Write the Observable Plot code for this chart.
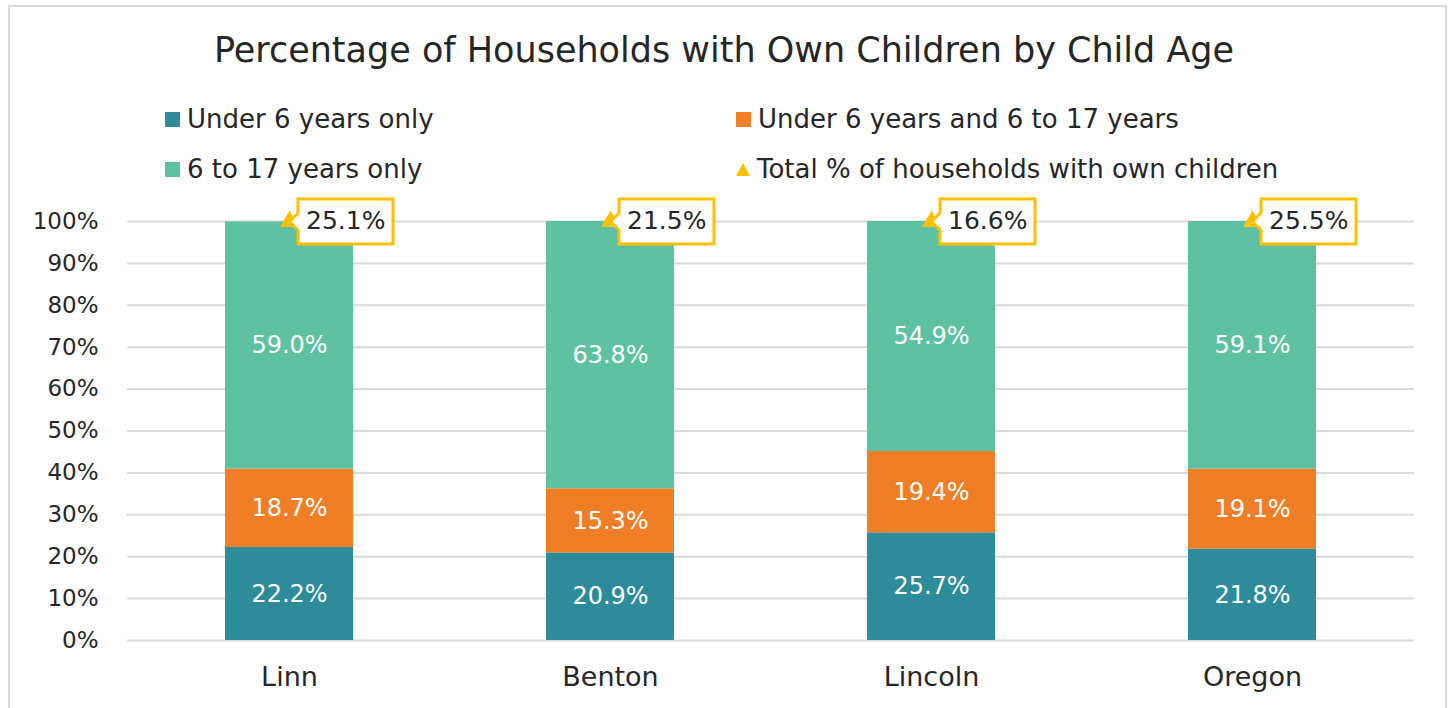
<!DOCTYPE html>
<html>
<head>
<meta charset="utf-8">
<script src="https://cdn.jsdelivr.net/npm/d3@7"></script>
<script src="https://cdn.jsdelivr.net/npm/@observablehq/plot@0.6"></script>
<style>
  html, body { margin: 0; padding: 0; background: #fff; }
  body { font-family: "DejaVu Sans", sans-serif; color: #262626; }
  #wrap { position: relative; width: 1448px; height: 708px; overflow: hidden; }
  #border { position: absolute; left: 8px; top: 5px; width: 1435px; height: 720px; border: 2px solid #D9D9D9; }
  #title { position: absolute; left: 0; top: 29px; width: 1448px; text-align: center; font-size: 35px; line-height: 42px; }
  .leg { position: absolute; font-size: 26px; line-height: 30px; white-space: nowrap; display: flex; align-items: center; }
  .sw { display: inline-block; width: 15px; height: 15px; margin-right: 7px; }
  #chart { position: absolute; left: 0; top: 195px; }
  #chart svg g[aria-label="tip"] path { filter: none !important; }
</style>
</head>
<body>
<div id="wrap">
  <div id="border"></div>
  <div id="title"></div>
  <div id="legend"></div>
  <div id="chart"></div>
</div>
<script>
const titleText = "Percentage of Households with Own Children by Child Age";
const counties = ["Linn", "Benton", "Lincoln", "Oregon"];
const seriesNames = ["Under 6 years only", "Under 6 years and 6 to 17 years", "6 to 17 years only"];
const totalName = "Total % of households with own children";
const under6 = [22.2, 20.9, 25.7, 21.8];
const both = [18.7, 15.3, 19.4, 19.1];
const sixTo17 = [59.0, 63.8, 54.9, 59.1];
const totals = [25.1, 21.5, 16.6, 25.5];
const colors = ["#2E8B9A", "#F07E26", "#5EC1A1"];
const totalColor = "#FFC000";
const yTicks = [0, 10, 20, 30, 40, 50, 60, 70, 80, 90, 100];

document.getElementById("title").textContent = titleText;

// legend (HTML, above the SVG)
const legendItems = [
  {name: seriesNames[0], color: colors[0], kind: "sq", left: 165, top: 104},
  {name: seriesNames[1], color: colors[1], kind: "sq", left: 736, top: 104},
  {name: seriesNames[2], color: colors[2], kind: "sq", left: 165, top: 154},
  {name: totalName, color: totalColor, kind: "tri", left: 736, top: 154}
];
const legend = document.getElementById("legend");
for (const it of legendItems) {
  const d = document.createElement("div");
  d.className = "leg";
  d.style.left = it.left + "px";
  d.style.top = it.top + "px";
  const s = document.createElement("span");
  if (it.kind === "sq") {
    s.className = "sw";
    s.style.background = it.color;
  } else {
    s.style.cssText = `display:inline-block;width:0;height:0;border-left:7px solid transparent;border-right:7px solid transparent;border-bottom:13px solid ${it.color};margin-right:7px;`;
  }
  d.appendChild(s);
  d.appendChild(document.createTextNode(it.name));
  legend.appendChild(d);
}

const rows = counties.flatMap((c, i) => [
  {county: c, series: seriesNames[0], value: under6[i]},
  {county: c, series: seriesNames[1], value: both[i]},
  {county: c, series: seriesNames[2], value: sixTo17[i]}
]);
const totRows = counties.map((c, i) => ({county: c, total: totals[i], top: 100}));

const chart = Plot.plot({
  width: 1448,
  height: 513,
  marginTop: 26,
  marginBottom: 68,
  marginLeft: 127,
  marginRight: 34,
  style: {fontFamily: "DejaVu Sans, sans-serif", fontSize: "23px", color: "#262626", background: "transparent"},
  x: {domain: counties, paddingInner: 0.6, paddingOuter: 0.3, label: null},
  y: {domain: [0, 100], label: null},
  color: {domain: seriesNames, range: colors},
  marks: [
    Plot.ruleY(yTicks, {stroke: "#D9D9D9", strokeWidth: 2}),
    Plot.barY(rows, {x: "county", y: "value", fill: "series"}),
    Plot.text(rows, Plot.stackY({x: "county", y: "value", z: "series", text: d => d.value.toFixed(1) + "%", fill: "white", fontSize: 24})),
    Plot.dot(totRows, {x: "county", y: "top", symbol: "triangle", fill: totalColor, r: 7}),
    Plot.tip(totRows, {x: "county", y: "top", title: d => d.total.toFixed(1) + "%", anchor: "left", pointerSize: 17, textPadding: 8, fontSize: 25, fill: "white", stroke: totalColor, strokeWidth: 3}),
    Plot.axisX({tickSize: 0, tickPadding: 26, fontSize: 27}),
    Plot.axisY({ticks: yTicks, tickFormat: d => d + "%", tickSize: 0, tickPadding: 29, fontSize: 23})
  ]
});
document.getElementById("chart").appendChild(chart);
</script>
</body>
</html>
